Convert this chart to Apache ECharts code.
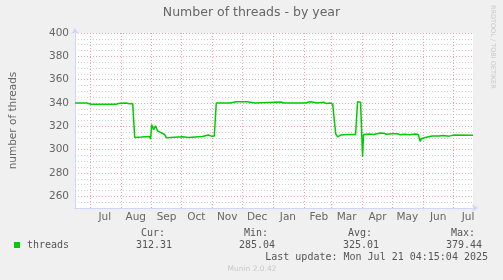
<!DOCTYPE html>
<html>
<head>
<meta charset="utf-8">
<script src="https://cdn.jsdelivr.net/npm/echarts@6/dist/echarts.min.js"></script>
<style>
html, body { margin: 0; padding: 0; background: #f0f0f0; }
#chart { width: 503px; height: 280px; }
</style>
</head>
<body>
<div id="chart"></div>
<script>
// one category per day, Jun 16 2024 .. Jul 21 2025
const firstDay = Date.UTC(2024, 5, 16);
const lastDay = Date.UTC(2025, 6, 21);
const days = [];
for (let t = firstDay; t <= lastDay; t += 86400000) {
    days.push(new Date(t).toISOString().slice(0, 10));
}
const monthNames = ['Jan', 'Feb', 'Mar', 'Apr', 'May', 'Jun', 'Jul', 'Aug', 'Sep', 'Oct', 'Nov', 'Dec'];

// threads
const pointDates = [
    '2024-06-16', '2024-06-23', '2024-06-24', '2024-06-25', '2024-06-28', '2024-06-29', '2024-06-30',
    '2024-07-02', '2024-07-04', '2024-07-06', '2024-07-11', '2024-07-12', '2024-07-14', '2024-07-27',
    '2024-07-29', '2024-07-31', '2024-08-02', '2024-08-06', '2024-08-07', '2024-08-08', '2024-08-10',
    '2024-08-13', '2024-08-15', '2024-08-22', '2024-08-30', '2024-08-31', '2024-09-01', '2024-09-03',
    '2024-09-05', '2024-09-07', '2024-09-09', '2024-09-10', '2024-09-12', '2024-09-14', '2024-09-16',
    '2024-09-18', '2024-10-02', '2024-10-08', '2024-10-09', '2024-10-22', '2024-10-24', '2024-10-28',
    '2024-10-30', '2024-10-31', '2024-11-03', '2024-11-05', '2024-11-19', '2024-11-21', '2024-11-25',
    '2024-11-27', '2024-11-29', '2024-11-30', '2024-12-03', '2024-12-06', '2024-12-08', '2024-12-14',
    '2024-12-15', '2024-12-16', '2025-01-09', '2025-01-11', '2025-01-12', '2025-01-14', '2025-01-16',
    '2025-01-31', '2025-02-01', '2025-02-03', '2025-02-07', '2025-02-09', '2025-02-11', '2025-02-14',
    '2025-02-16', '2025-02-21', '2025-02-24', '2025-02-27', '2025-03-02', '2025-03-05', '2025-03-07',
    '2025-03-10', '2025-03-17', '2025-03-25', '2025-03-27', '2025-03-30', '2025-03-31', '2025-04-01',
    '2025-04-02', '2025-04-08', '2025-04-12', '2025-04-19', '2025-04-22', '2025-04-25', '2025-05-01',
    '2025-05-03', '2025-05-06', '2025-05-09', '2025-05-13', '2025-05-18', '2025-05-24', '2025-05-27',
    '2025-05-29', '2025-05-30', '2025-05-31', '2025-06-03', '2025-06-05', '2025-06-10', '2025-06-17',
    '2025-06-21', '2025-06-27', '2025-07-02', '2025-07-21'
];
const threads = [
    340, 340, 341, 340, 340, 341, 340,
    339, 338.5, 339, 339, 338.3, 339, 339,
    338.2, 339.8, 340, 340, 339.2, 340, 339.3,
    339.5, 310.5, 310.8, 311.2, 309, 321.5, 317.2,
    320.3, 316, 317.2, 314.8, 316, 313, 310.2,
    311, 311, 310.4, 311, 311.3, 312.7, 312.6,
    313, 311.6, 311.8, 340, 340, 341, 341,
    340, 341, 340, 341, 341, 340, 340,
    341, 340, 340.9, 339.2, 340, 339, 340,
    340, 339.2, 340, 341.1, 340, 340.6, 340,
    340.6, 340.6, 339.5, 340, 339, 313.6, 311,
    312.5, 313, 313, 341, 340.6, 340.4, 294,
    313, 313.5, 313, 314.3, 314, 313.2, 313.6,
    313, 313.7, 312.7, 313.2, 312.8, 313.5, 313,
    307, 309.4, 310.3, 310.4, 311.1, 311.8, 311.7,
    312.2, 311.6, 312.5, 312.3
];

const legendHeads = ['Cur:', 'Min:', 'Avg:', 'Max:'];
const legendValues = ['312.31', '285.04', '325.01', '379.44'];
const legendRight = [172, 275, 379, 482];

const minorGrid = '#d2d2d2';
const majorGrid = '#eea4a4';
const axisColor = '#cfd6f8';
const mono = '10px "DejaVu Sans Mono"';

const graphic = [
    { type: 'rect', shape: { x: 14, y: 242, width: 6, height: 6 }, style: { fill: '#00cc00' } },
    { type: 'text', x: 27, y: 245, style: { text: 'threads', font: mono, fill: '#555', verticalAlign: 'middle' } },
    { type: 'text', x: 488, y: 257, style: { text: 'Last update: Mon Jul 21 04:15:04 2025', font: mono, fill: '#555', align: 'right', verticalAlign: 'middle' } },
    { type: 'text', x: 252, y: 269, style: { text: 'Munin 2.0.42', font: '7.5px "DejaVu Sans"', fill: '#c8c8c8', align: 'center', verticalAlign: 'middle' } },
    { type: 'text', x: 493, y: 5, rotation: -Math.PI / 2, style: { text: 'RRDTOOL / TOBI OETIKER', font: '6.5px "DejaVu Sans"', fill: '#c8c8c8', verticalAlign: 'middle' } }
];
legendHeads.forEach((h, i) => {
    graphic.push({ type: 'text', x: legendRight[i] - 7, y: 233, style: { text: h, font: mono, fill: '#555', align: 'right', verticalAlign: 'middle' } });
    graphic.push({ type: 'text', x: legendRight[i], y: 245, style: { text: legendValues[i], font: mono, fill: '#555', align: 'right', verticalAlign: 'middle' } });
});

const myChart = echarts.init(document.getElementById('chart'));
myChart.setOption({
    backgroundColor: '#f0f0f0',
    animation: false,
    title: {
        text: 'Number of threads - by year',
        left: 'center',
        top: 6,
        padding: 0,
        textStyle: { fontSize: 12.5, fontWeight: 'normal', color: '#666', fontFamily: 'DejaVu Sans' }
    },
    grid: { left: 72, right: 30, top: 33, bottom: 72, show: true, backgroundColor: '#fff', borderWidth: 0 },
    xAxis: {
        type: 'category',
        data: days,
        boundaryGap: false,
        axisLine: {
            lineStyle: { color: axisColor },
            symbol: ['none', 'arrow'],
            symbolSize: [6, 6],
            symbolOffset: [0, 5]
        },
        axisTick: { show: false },
        axisLabel: {
            // month name in the middle of each month; the partial first June is left unlabelled
            interval: (i, v) => i > 0 && v.slice(8) === '16',
            formatter: (v) => monthNames[+v.slice(5, 7) - 1],
            color: '#666',
            fontSize: 10.5,
            fontFamily: 'DejaVu Sans',
            margin: 4
        },
        splitLine: {
            show: true,
            interval: (i, v) => v.slice(8) === '01',
            lineStyle: { color: majorGrid, type: [1, 2] }
        }
    },
    yAxis: {
        type: 'value',
        min: 250,
        max: 400,
        interval: 5,
        name: 'number of threads',
        nameLocation: 'middle',
        nameGap: 56,
        nameTextStyle: { color: '#666', fontSize: 10.5, fontFamily: 'DejaVu Sans' },
        axisLine: {
            show: true,
            lineStyle: { color: axisColor },
            symbol: ['none', 'arrow'],
            symbolSize: [6, 6],
            symbolOffset: [0, 5]
        },
        axisTick: { show: false },
        axisLabel: {
            color: '#666',
            fontSize: 10.5,
            fontFamily: 'DejaVu Sans',
            margin: 6,
            formatter: (v) => (v % 20 === 0 ? String(v) : '')
        },
        splitLine: {
            show: true,
            lineStyle: { color: [minorGrid, minorGrid, majorGrid, minorGrid], type: [1, 2] }
        }
    },
    series: [
        {
            type: 'line',
            data: pointDates.map((d, i) => [d, threads[i]]),
            showSymbol: false,
            symbol: 'none',
            lineStyle: { color: '#00cc00', width: 1.5 }
        }
    ],
    graphic: graphic
});
</script>
</body>
</html>
